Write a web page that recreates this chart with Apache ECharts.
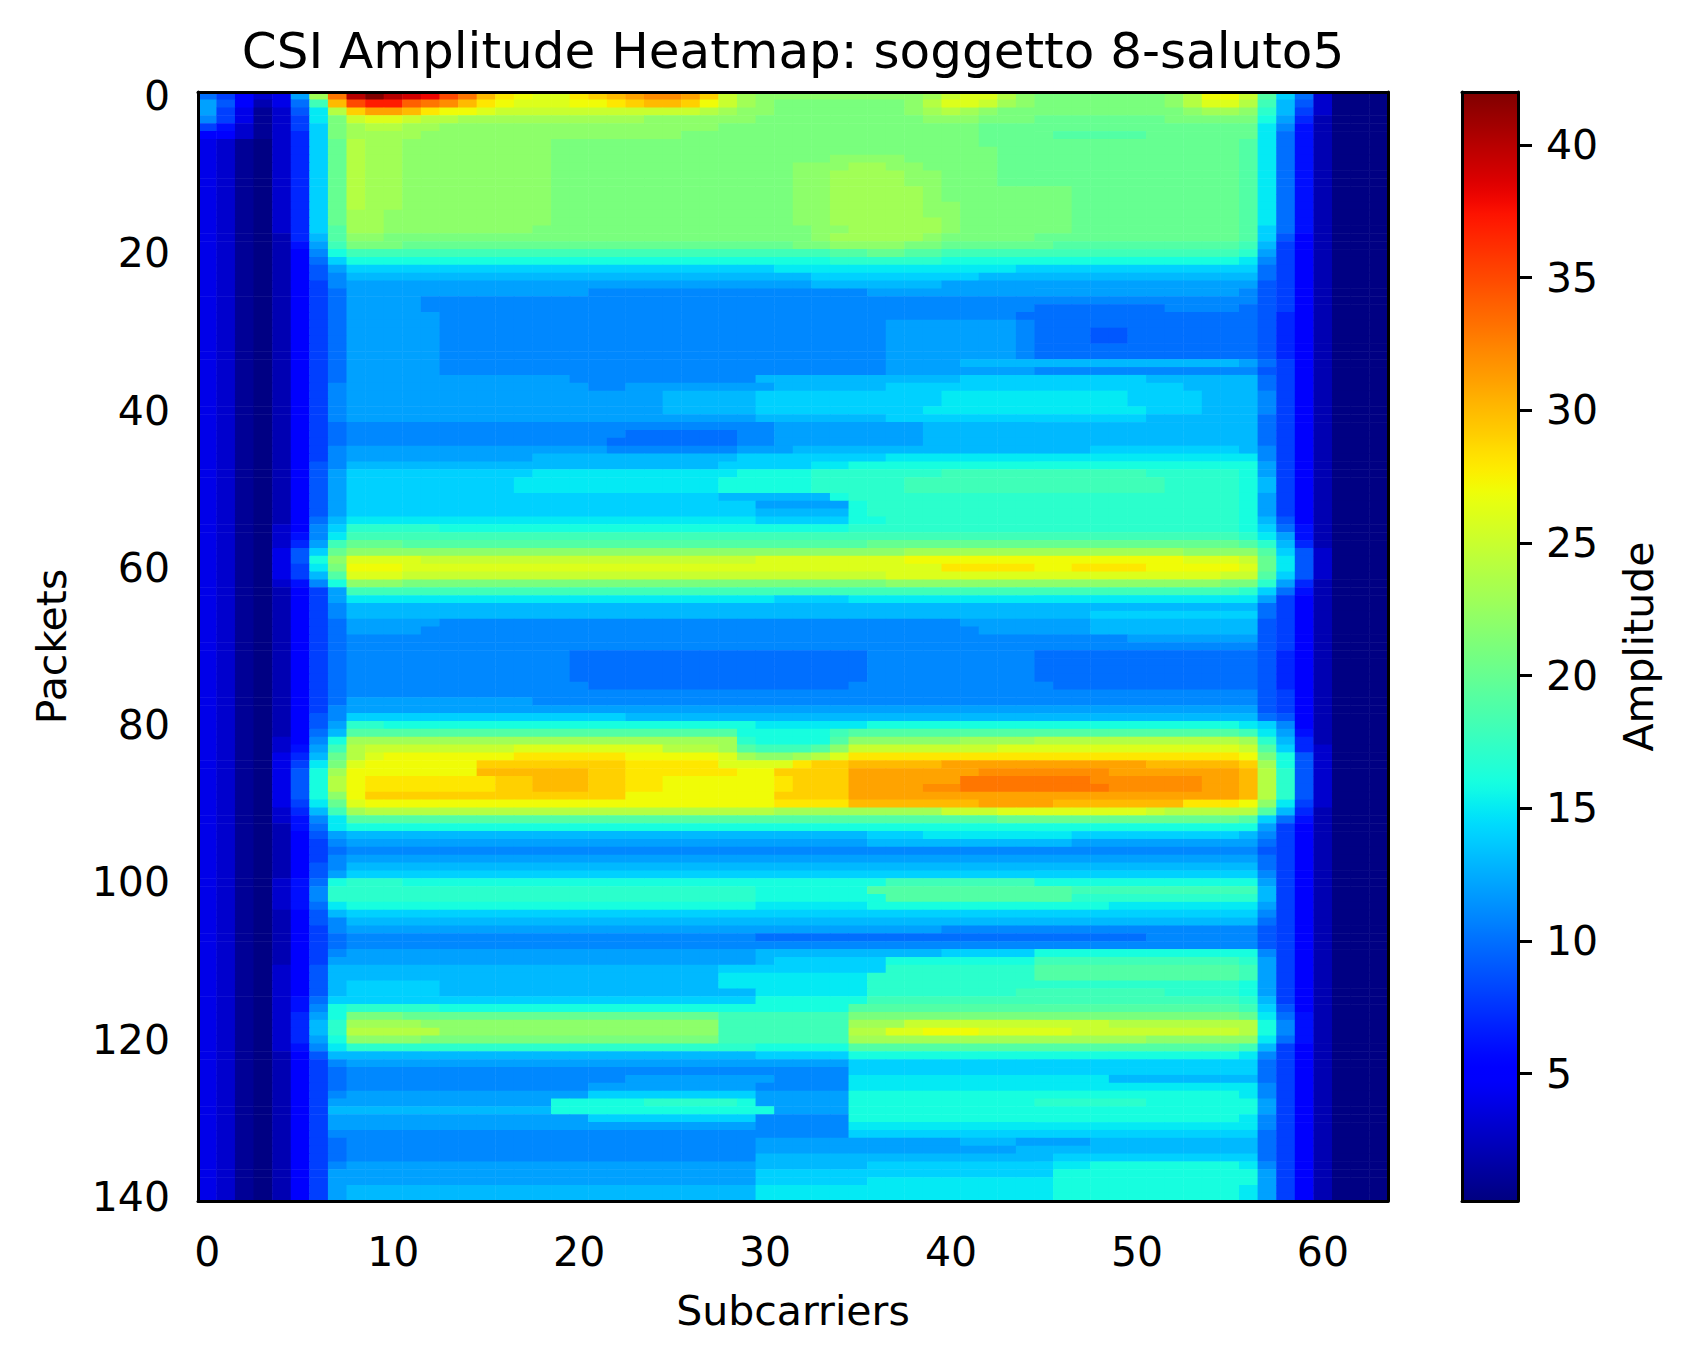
<!DOCTYPE html>
<html>
<head>
<meta charset="utf-8">
<script src="https://cdn.jsdelivr.net/npm/echarts@6.0.0/dist/echarts.min.js"></script>
<style>
  html, body { margin: 0; padding: 0; background: #fff; }
  #chart { width: 1688px; height: 1361px; }
</style>
</head>
<body>
<div id="chart"></div>
<script>
// axis ticks and categories
const xTicks = [0, 10, 20, 30, 40, 50, 60];
const yTicks = [0, 20, 40, 60, 80, 100, 120, 140];
const colorbarTicks = [5, 10, 15, 20, 25, 30, 35, 40];
const ampMin = 0.2;
const ampMax = 42;

// one char per cell, char index in CODES = amplitude
// groups: sc0-4 | sc5-7 | sc8-12 | sc13-22 | sc23-32 | sc33-42 | sc43-52 | sc53-56 | sc57-59 | sc60-63
const CODES = '0123456789abcdefghijklmnopqrstuvwxyzABCDEFG';
const amplitudeRows = [
  "a8534 cnx EGEDC zxusrqqstu vwwvtpnmmm mmmmmmnpqq omlllllllm orrp jea 3000",
  "c9524 aiu zBByx wusrqqqrrs tuutrpnmll lllllmoqqp nmlllllllm oqqo id9 3000",
  "c8413 9fo tvvus rrqppppppp pppponmmll lllllmnonm llllllllll mnnm hd8 3000",
  "b8413 8fl pqqpo onnnnnnnnn nmmmmmmlll llllllmmml llkkkkkkkl llll gc7 2000",
  "86313 8el noonn mmmmmmmmmm mmmmmlllll lllllllllk kkkkkkkkkk kkkk fb6 2000",
  "55313 7el nnnnm mmmmmmmmmm mmmlllllll lllllllllk kkkjjjjjkk kkkk fa6 2000",
  "43103 7ek onnmm mmmmmmllll llllllllll lllllllllk kkkkkkkkkk kkkj fa6 2000",
  "43103 7ek onnmm mmmmmmllll llllllllll llllllllll kkkkkkkkkk kkkj fa6 2000",
  "43103 7ek onnmm mmmmmmllll llllllllll lmmmmlllll kkkkkkkkkk kkkj fa6 2000",
  "43103 7ek onnmm mmmmmmllll lllllllllm mmnnmmllll kkkkkkkkkk kkkj fa6 2000",
  "43103 7ek onnmm mmmmmmllll lllllllllm mnnnnmmlll kkkkkkkkkk kkkj fa6 2000",
  "43103 7ek onnmm mmmmmmllll lllllllllm mnnnnmmlll kkkkkkkkkk kkkj fa6 2000",
  "43103 7ek onnmm mmmmmmllll lllllllllm mnnnnnmlll llllkkkkkk kkkj fa6 2000",
  "43103 7ek onnmm mmmmmmllll lllllllllm mnnnnnmlll llllkkkkkk kkkj fa6 2000",
  "43103 7ek onnmm mmmmmmllll lllllllllm mnnnnnmmll llllkkkkkk kkkj fa6 2000",
  "43103 7ek nnmmm mmmmmmllll lllllllllm mnnnnnmmll llllkkkkkk kkkj fa6 2000",
  "43103 7ek nnmmm mmmmmmllll lllllllllm mnnnnnnmll llllkkkkkk kkkj fa6 2000",
  "43103 7ej nnmmm mmmmmlllll llllllllll mmnnnnnmll llllkkkkkk kkkj ea6 2000",
  "43102 7dj mmlll llllllllll llllllllll mnnnnnmlll llkkkkkkkk kkkj e95 2000",
  "43102 6ci lllkk kkkkkkkkkk kkkkkkkkkl lmmmmllkkk kkkjjjjjjj jjji d85 2000",
  "43102 5bg iiiii iiiiiiiiii iiiiiiiiii ijjkkjjiii iiiiiiiiii iiih c85 2000",
  "43102 5ae ggggg gggggggggg gggggggggg ghhhhhhggg gggggggggg gggf b85 2000",
  "43102 59c eeeee eeeeeeeeee eeeeeeeeff ffffffffff feeeeeeeee eeee a85 2000",
  "43102 59b ddddd dddddddddd dddddddddd eeeeeeeeed dddddddddd dddd a85 2000",
  "43102 58b ccccc cccccccccc cccccccccc dddddddccc cccccccccc cccc 985 2000",
  "43102 58a ccccc ccccccccbb bbbbbbbbbb bbbccccccc cccccccccc cccb 985 2000",
  "43102 58a ccccb bbbbbbbbbb bbbbbbbbbb bbbbbbbbbb bbbbbbbbbb bbbb 985 2000",
  "43102 58a ccccb bbbbbbbbbb bbbbbbbbbb bbbbbbbbbb bbaaaaaaab bbba 985 2000",
  "43102 58a ccccc bbbbbbbbbb bbbbbbbbbb bbbbbbbbbb baaaaaaaaa aaaa 975 2000",
  "43102 58a ccccc bbbbbbbbbb bbbbbbbbbb bbbbcccccc cbaaaaaaaa aaaa 975 2000",
  "43102 58a ccccc bbbbbbbbbb bbbbbbbbbb bbbbcccccc cbaaa99aaa aaaa 975 2000",
  "43102 58a ccccc bbbbbbbbbb bbbbbbbbbb bbbbcccccc cbaaa99aaa aaaa 975 2000",
  "43102 58a ccccc bbbbbbbbbb bbbbbbbbbb bbbbcccccc cbaaaaaaaa aaaa 975 2000",
  "43102 58a ccccc bbbbbbbbbb bbbbbbbbbb bbbbcccccc cbaaaaaaaa aaaa 975 2000",
  "43102 58a ccccc bbbbbbbbbb bbbbbbbbbb bbbbccccdd dddddddddd dddc a85 2000",
  "43102 58a ccccc bbbbbbbbbb bbbbbbbbbb bbbbcccccc ccbbbbbbbb bbbb 985 2000",
  "43102 58a ccccc cccccccbbb bbbbbbbddd ddddddddee eeeeeeeedd dddd a85 2000",
  "43102 58b ccccc ccccccccbb ccccccccdd ddddeeeeee eeeeeeeeee dddd a85 2000",
  "43102 58b ccccc cccccccccc ccdddddeee eeeeeeefff fffffffeee eddd b85 2000",
  "43102 58b ccccc cccccccccc ccdddddeee eeeeeeefff fffffffeee eddd b85 2000",
  "43102 58b ccccc cccccccccc ccdddddeee eeeeeeffff ffffffffee eddd b85 2000",
  "43102 58b ccccc cccccccccc cccccccddd ddddeeeeee eeeeeeeedd dddd a85 2000",
  "43102 58a bbbbb bbbbbbbbbb bbbbbbbbcc ccccccdddd dddddddddd dddd a85 2000",
  "43102 58a bbbbb bbbbbbbbbb aaaaaabbcc ccccccdddd dddddddddd dddd a85 2000",
  "43102 58a bbbbb bbbbbbbbba aaaaaabbcc ccccccdddd dddddddddd dddd a85 2000",
  "43102 58b ccccc cccccccccb bbbbbbcccd dddddddddd dddddeeeee eeed b85 2000",
  "43102 58b ccccc cccccddddd ddddddeeee eeeeffffff ffffffffff ffff b85 2000",
  "43102 59b ddddd dddddddddd dddddeeeee ffgggggggg gggggggggg gggg c85 2000",
  "43102 59c eeeee eeeeefffff ffffffgggg hhhhhhhiii iiiiiiiihh hhhg c85 2000",
  "43102 59c eeeee eeeeffffff fffffggggg hhhhhiiiii iiiiiiiiih hhhg d85 2000",
  "43102 59c eeeee eeeeffffff fffffggggg hhhhhiiiii iiiiiiiiih hhhg d85 2000",
  "43102 59c eeeee eeeeeeeeee eeeeeddddd dghhhhhhhh hhhhhhhhhh hhhg c85 2000",
  "43102 59c eeeee eeeeeeeeee eeeeeeeccc ccghhhhhhh hhhhhhhhhh hhhg c85 2000",
  "43102 59c eeeee eeeeeeeeee eeeeeeeddd ddghhhhhhh hhhhhhhhhh hhhg c85 2000",
  "43102 5ad fffff ffffffffff fffffffeee eegghhhhhh hhhhhhhhhh hhhg d95 2000",
  "43103 5be hhhhh gggggggggg gggggggggg gghhhhhhhh hhhhhhhhhh hhhg ea6 2000",
  "43103 6bf iiiii iiiiiiiiii iiiiiiiiii iiiiiiiiii iiiiiiiiii iiih fc6 2000",
  "43103 7ci kkkjj jjjjjjjjjj jjjjjjjjjj jjjkkkkkkk kkkkkkkkkk kkkj hd7 2000",
  "43104 9ek mmmmm mmmmmmmmmm mmmmmmmmmm mmmmmnnnnn nnnnnnnnnn mmmm je9 3000",
  "43104 9gm qqqqp pppppppppp pppppppqqq qqqqqrrrrr rrrrrrrrrr qqqp kf9 3000",
  "43104 8fl rrrqq qqqqqqqqqq qqqqqqqqqq qqqqqqqsss ssrrssssrr rrrq kf9 3000",
  "43104 8dj qqqpp pppppppppp pppppppppp ppppqqqqqq qqqqqqqqqq qqpp je9 3000",
  "43103 6bg mmmll llllllllll llllllllll llllmmmmmm mmmmmmmmmm mmll hc7 2000",
  "43102 58c iiiii iiiiiiiiii iiiiiiiiii iiiiiiiiii iiiiiiiiii iiih ea6 2000",
  "43102 58c fffff ffffffffff ffffffffee eeffffffff ffffffffff ffff c85 2000",
  "43102 58b ddddd dddddddddd dddddddddd dddddddddd dddddddddd dddd a85 2000",
  "43102 58b ddddd dddddddddd dddddddddd dddddddddd dddddeeeee eeee a85 2000",
  "43102 58a ccccc bbbbbbbbbb bbbbbbbbbb bbbbbbbbcc cccccddddd dddd 985 2000",
  "43102 58a ccccb bbbbbbbbbb bbbbbbbbbb bbbbbbbbbc cccccddddd dddd 985 2000",
  "43102 58a bbbbb bbbbbbbbbb bbbbbbbbbb bbbbbbbbbb bbbbbbbccc cccc 985 2000",
  "43102 58a bbbbb bbbbbbbbbb bbbbbbbbbb bbbbbbbbbb bbbbbbbbbb bbbb 985 2000",
  "43102 58a bbbbb bbbbbbbaaa aaaaaaaaaa aaabbbbbbb bbaaaaaaaa aaaa 975 2000",
  "43102 58a bbbbb bbbbbbbaaa aaaaaaaaaa aaabbbbbbb bbaaaaaaaa aaaa 975 2000",
  "43102 58a bbbbb bbbbbbbaaa aaaaaaaaaa aaabbbbbbb bbaaaaaaaa aaaa 975 2000",
  "43102 58a bbbbb bbbbbbbaaa aaaaaaaaaa aaabbbbbbb bbaaaaaaaa aaaa 975 2000",
  "43102 58a bbbbb bbbbbbbbaa aaaaaaaaaa aabbbbbbbb bbbaaaaaaa aaaa 975 2000",
  "43102 58a bbbbb bbbbbbbbbb bbbbbbbbbb bbbbbbbbbb bbbbbbbbbb bbbb 985 2000",
  "43102 58a ccccc cccccbbbbb bbbbbbbbbb bbbbbbbbbb bbbbbbbbbb bbbb 985 2000",
  "43102 58b ccccc cccccccccc cccccccccc cccccccccc cccccccccc cccc 985 2000",
  "43102 59b eeeee eeeeeeeeee dddddddddd dddddddddd dddddddddd dddd a95 2000",
  "43102 59c hhggg gggggggggg gggggggfff fffggggggg gggggggggg gggf eb5 2000",
  "43102 5ad jjjjj jjjjjjjjjj jjjjjjgggg gijjjjjjjj jjjjjjjjjj jjji fc6 2000",
  "43103 5bg nnnnn nnnnnnnnnn nnnnnnhggg gjmmmmmmnn nnoooooooo ooon hd7 2000",
  "43103 6ci opppp ppppqqqqqq qqooonjiii jmpppppppp qqqqqqqqqq qqqp je7 3000",
  "43104 7dk oqrrr rrrrssssss rrrrrqnmmn oqssssssss ssssssssss sssr lg9 3000",
  "43104 8fl qrrrr rrtttttttt sssssqqqqs ttuuuuuvvv vvvvvvvvuu uuut ng9 3000",
  "43104 9gn rrrrr rruuuuuutt ssssssrrtt ttvvvvvvvw wwwwwwvvvv vvvu oh9 3000",
  "43104 9go rssss sssttuuutt ssrrrrrrst ttvvvvvvxx xxxxxwwwww wvvu oh9 3000",
  "43104 9go rssss sssttuuutt ssrrrrrrst ttvvvvwwxx xxxxxxwwww wvvu oh9 3000",
  "43104 9gm rtttt tttttttttt rrrrrrrrtt ttvvvvvvvv vvvvvvvvvv vvvu oh9 3000",
  "43104 8fk qrrrr rrrrrrrrrr rrrrrrrrss ssuuuuuuuv vvvuuuuuuu sssr mf8 3000",
  "43103 7di noooo oooooooooo oooooooonn nnnnnnnppp qqqqqqqqpo oooo jd7 2000",
  "43103 6bf jjjjj jjjjjjjjjj jjjjjjjjjj jjjjjjjjjj kkkkkkkkkk kkkj ea6 2000",
  "43102 6af ggggg gggggggggg gggggggggg gggggggggg gggggggggg gggg c85 2000",
  "43102 59c ddddd dddddddddd dddddddddd dddeeeffff ffffeeeeee eeed b85 2000",
  "43102 58b ccccc cccccccccc cccccccccc cccddddddd ddddcccccc cccc a85 2000",
  "43102 58a bbbbb bbbbbbbbbb bbbbbbbbbb bbbbbbbbbb bbbbbbbbbb bbbb 985 2000",
  "43102 58b ccccc cccccccccc cccccccccc cccccccccc cccccccccc cccc a85 2000",
  "43102 59b ddddd dddddddddd dddddddddd dddddddddd dddddddddd dddd a85 2000",
  "43102 59c eeeee eeeeeeeeee eeeeeeeeee eeeeeeeeee eeeeeeeeee eeee b85 2000",
  "43103 6ag hhhgg gggggggggg gggggggggg ggggiiiiii iigggggggg gggg c85 2000",
  "43103 6bh hhhhh hhhhhhhhhh hhhhhhhggg gggjjjjjjj jjjjiiiiii iiii d85 2000",
  "43103 6bh hhhhh hhhhhhhhhh hhhhhhhggg ggggjjjjjj jjjjhhhhhh hhhh d85 2000",
  "43103 6af ggggg gggggggggg gggggggfff fffggggggg ggggggffff ffff c85 2000",
  "43102 59d eeeee eeeeeeeeee eeeeeeeeee eeeeeeeeee eeeeeeeeee eeee b85 2000",
  "43102 59b ddddd dddddddddd dddddddddd dddddddddd dddddddddd dddd a85 2000",
  "43102 58b ccccc cccccccccc cccccccccc cccccccbbb bbbbbbbbbb bbbb 985 2000",
  "43102 58a bbbbb bbbbbbbbbb bbbbbbbaaa aaaaaaaaaa aaaaaaaabb bbbb 985 2000",
  "43102 58a bbbbb bbbbbbbbbb bbbbbbbbbb bbbbbbbbbb bbbbbbbbbb bbbb 985 2000",
  "43102 58b ccccc cccccccccc cccccccddd dddddddeee eegggggggg gggg b85 2000",
  "43102 58c ccccc cccccccccc cccccccdee eeeegggggg ggiiiiiiii iiih c85 2000",
  "43103 59d ddddd dddddddddd dddddeeeee eeeehhhhhh hhjjjjjjjj jjji c85 2000",
  "43103 59d ddddd dddddddddd dddddfffff fffhhhhhhh hhjjjjjjjj jjji c85 2000",
  "43103 59d eeeee dddddddddd dddddfffff fffhhhhhhh hhhhhhhhhh hhhg c85 2000",
  "43103 59d eeeee dddddddddd dddddddfff fffhhhhhhh hiiiiiiiih hhhg c85 2000",
  "43103 6ae eeeee eeeeeeeeee eeeeeeeggg gggiiiiiii iiiiiiiiii iiih d85 2000",
  "43103 6bg hhhhh gggggggggg gggggggggg ggjjjjjjjj jjjjjjjjjj jjji e95 2000",
  "43103 7cg lllkk kkkkkkkkkk kkkkkiiiii iillllllll llllllllll lllk fa6 2000",
  "43103 7dh nnnnm mmmmmmmmmm mmmmmiiiii iinnnppppp ppppppoooo oooo gb6 2000",
  "43103 7dh ooooo mmmmmmmmmm mmmmmiiiii iiooqqrrrq qqqqpppppp pppo gb6 2000",
  "43103 7cg mmmml llllllllll llllliiiii iinnnnnnnn nnnnnnnnmm mmmm fa6 2000",
  "43103 6bf hhhhh hhhhhhhhhh hhhhhhhggg ggjjjjjjjj jjjjjjjjjj jjji d85 2000",
  "43102 59d ddddd dddddddddd dddddddeee eegggggggg gggggggggg gggf b85 2000",
  "43102 58b ccccc cccccccccc cccccccccc cceeeeeeee eeeeeeeeee eeee a85 2000",
  "43102 58a bbbbb bbbbbbbbbb bbbbbbbbbb bbeeeeeeee eeeeeeeeee eeee a85 2000",
  "43102 58a bbbbb bbbbbbbbbb ccccccccbb bbffffffff ffffffdddd dddd a85 2000",
  "43102 58a bbbbb bbbbbbbbcc cccccccbbb bbffffffff ffffffffff ffff b85 2000",
  "43102 58b ccccc ccccccccee eeeeeeeccc ccgggggggg gggggggggg gggf b85 2000",
  "43102 58c ccccc ccccccgggg ghhhhhgccc ccgggggggg gghhhhhhgg gggg c85 2000",
  "43102 58d ddddd ddddddgggg ggggggggcc ccgggggggg gggggggggg gggg c85 2000",
  "43102 58c ccccc ccccccccee eeeeeeebbb bbgggggggg gggggggggg gggf b85 2000",
  "43102 58c ccccc cccccccccc cccccccbbb bbffffffff ffffffffff ffff b85 2000",
  "43102 58b bbbbb bbbbbbbbbb bbbbbbbbbb bbeeeeeeee eeeeeeeeee eeee a85 2000",
  "43102 58a bbbbb bbbbbbbbbb bbbbbbbccc ccccccccdd dccccddddd dddd a85 2000",
  "43102 58a bbbbb bbbbbbbbbb bbbbbbbccc cccccccccc cddddddddd dddd a85 2000",
  "43102 58a bbbbb bbbbbbbbbb bbbbbbbddd dddddddddd dddeeeeeee eeee a85 2000",
  "43102 58b ccccc cccccccccc cccccccddd dddeeeeeee eeeffggggg gggf b85 2000",
  "43102 58c ccccc cccccccccc ccccccceee eeeeeeeeee eeeggggggg gggg c85 2000",
  "43102 58c ccccc cccccccccc ccccccceee eeefffffff fffggggggg gggg c85 2000",
  "43102 58c ddddd dddddddddd dddddddfff ffffffffff fffggggggg gggf c85 2000",
  "43102 58c ddddd dddddddddd dddddddfff ffffffffff fffggggggg gggf c85 2000"
];

const subcarriers = Array.from({ length: 64 }, (_, i) => String(i));
const packets = Array.from({ length: amplitudeRows.length }, (_, i) => String(i));

const SEG = [5, 3, 5, 10, 10, 10, 10, 4, 3, 4];
function decodeRow(row) {
  const parts = row.trim().split(/\s+/);
  const vals = [];
  SEG.forEach((n, i) => {
    let p = parts[i] || parts[parts.length - 1];
    while (p.length < n) p += p[p.length - 1];
    p = p.slice(0, n);
    for (const ch of p) vals.push(Math.max(CODES.indexOf(ch), 0.3));
  });
  return vals;
}

const cells = [];
amplitudeRows.forEach((row, y) => {
  decodeRow(row).forEach((v, x) => cells.push([x, y, v]));
});

// matplotlib jet
function jet(t) {
  const f = (pts) => {
    for (let i = 1; i < pts.length; i++) {
      if (t <= pts[i][0]) {
        const [x0, y0] = pts[i - 1], [x1, y1] = pts[i];
        return y0 + (y1 - y0) * (t - x0) / (x1 - x0);
      }
    }
    return pts[pts.length - 1][1];
  };
  const r = f([[0, 0], [0.35, 0], [0.66, 1], [0.89, 1], [1, 0.5]]);
  const g = f([[0, 0], [0.125, 0], [0.375, 1], [0.64, 1], [0.91, 0], [1, 0]]);
  const b = f([[0, 0.5], [0.11, 1], [0.34, 1], [0.65, 0], [1, 0]]);
  return 'rgb(' + Math.round(r * 255) + ',' + Math.round(g * 255) + ',' + Math.round(b * 255) + ')';
}
const jetColors = Array.from({ length: 85 }, (_, i) => jet(i / 84));

const FONT = 'DejaVu Sans';
const TICK_FONT = 41;
const black = '#000';
const lineOnly = {
  axisLine: { show: true, onZero: false, lineStyle: { color: black, width: 3 } },
  axisTick: { show: false },
  axisLabel: { show: false },
  splitLine: { show: false },
  z: 10
};

const chart = echarts.init(document.getElementById('chart'), null, { renderer: 'svg' });
chart.setOption({
  animation: false,
  backgroundColor: '#fff',
  graphic: [{
    type: 'text',
    x: 793,
    y: 51,
    style: {
      text: 'CSI Amplitude Heatmap: soggetto 8-saluto5',
      fontSize: 50,
      fontFamily: FONT,
      fill: black,
      textAlign: 'center',
      textVerticalAlign: 'middle'
    }
  }],
  grid: [
    { left: 198, top: 92, width: 1190, height: 1109 },
    { left: 1462, top: 92, width: 56, height: 1109 }
  ],
  xAxis: [
    {
      gridIndex: 0, type: 'category', data: subcarriers, position: 'bottom',
      axisLine: { show: true, onZero: false, lineStyle: { color: black, width: 3 } },
      axisTick: {
        alignWithLabel: true, length: 14, lineStyle: { color: black, width: 3 },
        interval: (i) => xTicks.includes(i)
      },
      axisLabel: {
        interval: (i) => xTicks.includes(i),
        fontSize: TICK_FONT, fontFamily: FONT, color: black, margin: 30
      },
      splitLine: { show: false },
      name: 'Subcarriers', nameLocation: 'middle', nameGap: 89,
      nameTextStyle: { fontSize: TICK_FONT, fontFamily: FONT, color: black },
      z: 10
    },
    Object.assign({ gridIndex: 0, type: 'category', data: subcarriers, position: 'top' }, lineOnly),
    Object.assign({ gridIndex: 1, type: 'value', min: 0, max: 1, position: 'bottom' }, lineOnly),
    Object.assign({ gridIndex: 1, type: 'value', min: 0, max: 1, position: 'top' }, lineOnly)
  ],
  yAxis: [
    {
      gridIndex: 0, type: 'category', data: packets, inverse: true, position: 'left',
      axisLine: { show: true, onZero: false, lineStyle: { color: black, width: 3 } },
      axisTick: {
        alignWithLabel: true, length: 14, lineStyle: { color: black, width: 3 },
        interval: (i) => yTicks.includes(i)
      },
      axisLabel: {
        interval: (i) => yTicks.includes(i),
        fontSize: TICK_FONT, fontFamily: FONT, color: black, margin: 28
      },
      splitLine: { show: false },
      name: 'Packets', nameLocation: 'middle', nameGap: 126, nameRotate: 90,
      nameTextStyle: { fontSize: TICK_FONT, fontFamily: FONT, color: black },
      z: 10
    },
    Object.assign({ gridIndex: 0, type: 'category', data: packets, inverse: true, position: 'right' }, lineOnly),
    {
      gridIndex: 1, type: 'value', min: ampMin, max: ampMax, position: 'right',
      axisLine: { show: true, onZero: false, lineStyle: { color: black, width: 3 } },
      axisTick: { show: true, length: 14, customValues: colorbarTicks, lineStyle: { color: black, width: 3 } },
      axisLabel: { show: true, customValues: colorbarTicks, fontSize: TICK_FONT, fontFamily: FONT, color: black, margin: 28 },
      splitLine: { show: false },
      name: 'Amplitude', nameLocation: 'middle', nameGap: 100, nameRotate: 90,
      nameTextStyle: { fontSize: TICK_FONT, fontFamily: FONT, color: black },
      z: 10
    },
    Object.assign({ gridIndex: 1, type: 'value', min: ampMin, max: ampMax, position: 'left' }, lineOnly)
  ],
  visualMap: {
    type: 'continuous',
    seriesIndex: 0,
    min: ampMin,
    max: ampMax,
    calculable: false,
    hoverLink: false,
    orient: 'vertical',
    left: 1462,
    top: 92,
    padding: 0,
    itemWidth: 56,
    itemHeight: 1109,
    inRange: { color: jetColors }
  },
  series: [
    {
      type: 'heatmap',
      xAxisIndex: 0,
      yAxisIndex: 0,
      data: cells,
      progressive: 0,
      itemStyle: { borderWidth: 0 },
      emphasis: { disabled: true }
    },
    {
      type: 'scatter',
      xAxisIndex: 2,
      yAxisIndex: 2,
      data: [],
      silent: true
    }
  ]
});
</script>
</body>
</html>
